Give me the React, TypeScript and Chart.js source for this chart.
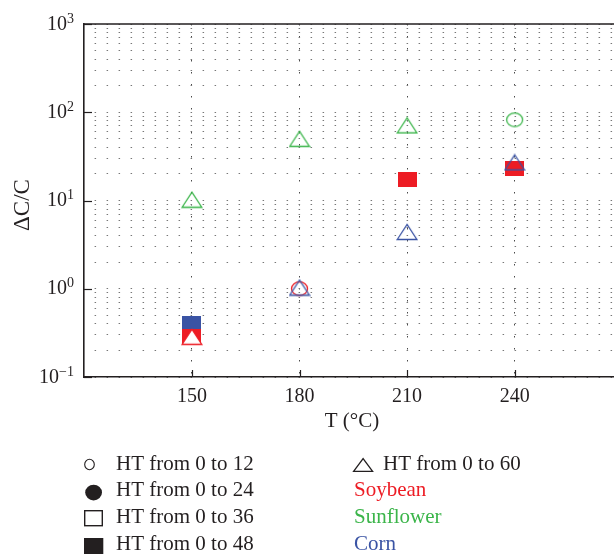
import React, { useEffect, useRef } from 'react';
import { Chart, registerables } from 'chart.js';

Chart.register(...registerables);

// ---------- data ----------
const temperatures = [150, 180, 210, 240];
const xTickValues = [150, 180, 210, 240];
const xRange = [119.9, 267.7];
const yExponents = [-1, 0, 1, 2, 3];
const yMinorMultipliers = [1, 2, 3, 4, 5, 6, 7, 8, 9];

const soybeanHT12 = [null, 1.0, null, null];
const soybeanHT48 = [0.285, null, 17.5, 23.2];
const soybeanHT60 = [0.285, null, null, null];
const sunflowerHT12 = [null, null, null, 82];
const sunflowerHT60 = [10.2, 50, 71, null];
const cornHT48 = [0.4, null, null, null];
const cornHT60 = [null, 1.03, 4.4, 27];

const legendLeftLabels = ['HT from 0 to 12', 'HT from 0 to 24', 'HT from 0 to 36', 'HT from 0 to 48'];
const legendTriangleLabel = 'HT from 0 to 60';
const cropLabels = ['Soybean', 'Sunflower', 'Corn'];
const xTitle = 'T (°C)';
const yTitle = 'ΔC/C';

const RED = '#ED1C24';
const GREEN = '#3BB54A';
const BLUE = '#3A53A4';
const INK = '#231F20';
const SERIF = '"Liberation Serif", "DejaVu Serif", serif';

type Shape = 'square' | 'triangle' | 'circle';

function makeMarker(shape: Shape, color: string, fill?: string): HTMLCanvasElement {
  const c = document.createElement('canvas');
  let w = 19;
  let h = 15;
  if (shape === 'triangle') { w = 22; h = 18; }
  if (shape === 'circle') { w = 19; h = 17; }
  c.width = w;
  c.height = h;
  const ctx = c.getContext('2d') as CanvasRenderingContext2D;
  ctx.lineWidth = 1.3;
  ctx.strokeStyle = color;
  if (shape === 'square') {
    ctx.fillStyle = color;
    ctx.fillRect(0, 0, w, h);
  } else if (shape === 'triangle') {
    ctx.beginPath();
    ctx.moveTo(1.2, h - 1.5);
    ctx.lineTo(w - 1.2, h - 1.5);
    ctx.lineTo(w / 2, 1.5);
    ctx.closePath();
    if (fill) { ctx.fillStyle = fill; ctx.fill(); }
    ctx.stroke();
  } else {
    ctx.beginPath();
    ctx.ellipse(w / 2, h / 2, 8, 6.8, 0, 0, Math.PI * 2);
    ctx.stroke();
  }
  return c;
}

function toPoints(values: (number | null)[]) {
  const pts: { x: number; y: number }[] = [];
  values.forEach((v, i) => {
    if (v !== null) pts.push({ x: temperatures[i], y: v });
  });
  return pts;
}

const decorPlugin = {
  id: 'decor',
  beforeDatasetsDraw(chart: any) {
    const { ctx, chartArea: a, scales } = chart;
    const x = scales.x;
    const y = scales.y;
    ctx.save();
    ctx.strokeStyle = INK;
    ctx.lineWidth = 1.6;
    ctx.beginPath();
    ctx.moveTo(a.left, a.top);
    ctx.lineTo(a.right, a.top);
    ctx.stroke();
    ctx.lineWidth = 1.2;
    yExponents.forEach((e) => {
      const py = Math.round(y.getPixelForValue(Math.pow(10, e))) + 0.5;
      ctx.beginPath();
      ctx.moveTo(a.left, py);
      ctx.lineTo(a.left + 8, py);
      ctx.stroke();
    });
    xTickValues.forEach((v) => {
      const px = Math.round(x.getPixelForValue(v)) + 0.5;
      ctx.beginPath();
      ctx.moveTo(px, a.bottom);
      ctx.lineTo(px, a.bottom - 7);
      ctx.stroke();
    });
    ctx.restore();
  },
  afterDraw(chart: any) {
    const { ctx, chartArea: a, scales } = chart;
    const x = scales.x;
    const y = scales.y;
    ctx.save();
    ctx.fillStyle = INK;

    // x tick labels
    ctx.font = `20px ${SERIF}`;
    ctx.textAlign = 'center';
    ctx.textBaseline = 'alphabetic';
    xTickValues.forEach((v) => {
      ctx.fillText(String(v), x.getPixelForValue(v), a.bottom + 24.5);
    });

    // y tick labels with superscripts
    const rightEdge = a.left - 10;
    yExponents.forEach((e) => {
      const py = y.getPixelForValue(Math.pow(10, e));
      const sup = e < 0 ? '\u2212' + String(-e) : String(e);
      ctx.font = `14px ${SERIF}`;
      const supW = ctx.measureText(sup).width;
      ctx.textAlign = 'left';
      ctx.fillText(sup, rightEdge - supW, py - 1.5);
      ctx.font = `20px ${SERIF}`;
      ctx.textAlign = 'right';
      ctx.fillText('10', rightEdge - supW, py + 5.5);
    });

    // axis titles
    ctx.font = `21px ${SERIF}`;
    ctx.textAlign = 'center';
    ctx.fillText(xTitle, 352, 427);
    ctx.save();
    ctx.font = `23px ${SERIF}`;
    ctx.translate(28.5, 205);
    ctx.rotate(-Math.PI / 2);
    ctx.fillText(yTitle, 0, 0);
    ctx.restore();

    // legend
    const rowBase = [469.5, 496.3, 523.2, 550];
    ctx.textAlign = 'left';
    ctx.font = `21px ${SERIF}`;
    legendLeftLabels.forEach((t, i) => {
      ctx.fillStyle = INK;
      ctx.fillText(t, 116, rowBase[i]);
    });
    ctx.strokeStyle = INK;
    ctx.fillStyle = INK;
    ctx.lineWidth = 1.1;
    ctx.beginPath();
    ctx.ellipse(89.5, 464.5, 4.8, 5.2, 0, 0, Math.PI * 2);
    ctx.stroke();
    ctx.beginPath();
    ctx.ellipse(93.6, 492.6, 8.4, 7.8, 0, 0, Math.PI * 2);
    ctx.fill();
    ctx.lineWidth = 1.4;
    ctx.strokeRect(84.7, 510.7, 17.6, 15);
    ctx.fillRect(84, 538, 19.3, 16);

    ctx.lineWidth = 1.3;
    ctx.beginPath();
    ctx.moveTo(353.6, 471.3);
    ctx.lineTo(372.6, 471.3);
    ctx.lineTo(363.1, 458.5);
    ctx.closePath();
    ctx.stroke();
    ctx.fillText(legendTriangleLabel, 383, rowBase[0]);
    const cropColors = [RED, GREEN, BLUE];
    cropLabels.forEach((t, i) => {
      ctx.fillStyle = cropColors[i];
      ctx.fillText(t, 354, rowBase[i + 1]);
    });
    ctx.restore();
  },
};

export default function App() {
  const ref = useRef<HTMLCanvasElement | null>(null);

  useEffect(() => {
    if (!ref.current) return;
    const markers = {
      redSquare: makeMarker('square', RED),
      redTriangle: makeMarker('triangle', RED, '#FFFFFF'),
      redCircle: makeMarker('circle', RED),
      greenTriangle: makeMarker('triangle', GREEN),
      greenCircle: makeMarker('circle', GREEN),
      blueSquare: makeMarker('square', BLUE),
      blueTriangle: makeMarker('triangle', BLUE),
    };
    const ds = (label: string, values: (number | null)[], style: HTMLCanvasElement, order: number) => ({
      label,
      data: toPoints(values),
      pointStyle: style,
      pointRadius: 6,
      showLine: false,
      order,
    });

    const yTicks: number[] = [];
    yExponents.forEach((e) => {
      if (e === yExponents[yExponents.length - 1]) {
        yTicks.push(Math.pow(10, e));
      } else {
        yMinorMultipliers.forEach((m) => yTicks.push(m * Math.pow(10, e)));
      }
    });

    const chart = new Chart(ref.current, {
      type: 'scatter',
      data: {
        datasets: [
          ds('Soybean HT 0-60', soybeanHT60, markers.redTriangle, 1),
          ds('Corn HT 0-60', cornHT60, markers.blueTriangle, 2),
          ds('Soybean HT 0-12', soybeanHT12, markers.redCircle, 3),
          ds('Sunflower HT 0-60', sunflowerHT60, markers.greenTriangle, 4),
          ds('Sunflower HT 0-12', sunflowerHT12, markers.greenCircle, 5),
          ds('Soybean HT 0-48', soybeanHT48, markers.redSquare, 6),
          ds('Corn HT 0-48', cornHT48, markers.blueSquare, 7),
        ],
      },
      options: {
        responsive: false,
        animation: false,
        devicePixelRatio: 1,
        clip: false,
        layout: { autoPadding: false, padding: { top: 24, right: 0, left: 0, bottom: 0 } },
        plugins: { legend: { display: false }, tooltip: { enabled: false } },
        events: [],
        scales: {
          x: {
            type: 'linear',
            min: xRange[0],
            max: xRange[1],
            afterBuildTicks: (s: any) => {
              s.ticks = xTickValues.map((v) => ({ value: v }));
            },
            afterFit: (s: any) => {
              s.height = 177;
            },
            ticks: { display: false },
            grid: { color: '#4a4a4a', lineWidth: 1, drawTicks: false },
            border: { display: true, color: INK, width: 1.6, dash: [1.5, 10.5], dashOffset: 0 },
          },
          y: {
            type: 'logarithmic',
            min: 0.1,
            max: 1000,
            afterBuildTicks: (s: any) => {
              s.ticks = yTicks.map((v) => ({ value: v }));
            },
            afterFit: (s: any) => {
              s.width = 84;
            },
            ticks: { display: false, autoSkip: false },
            grid: { color: '#777777', lineWidth: 1, drawTicks: false },
            border: { display: true, color: INK, width: 1.6, dash: [1.5, 10.5], dashOffset: 2 },
          },
        },
      },
      plugins: [decorPlugin],
    } as any);
    return () => chart.destroy();
  }, []);

  return (
    <div style={{ position: 'fixed', left: 0, top: 0, width: 614, height: 554, overflow: 'hidden', background: '#fff' }}>
      <canvas ref={ref} width={614} height={554} style={{ display: 'block' }} />
    </div>
  );
}
